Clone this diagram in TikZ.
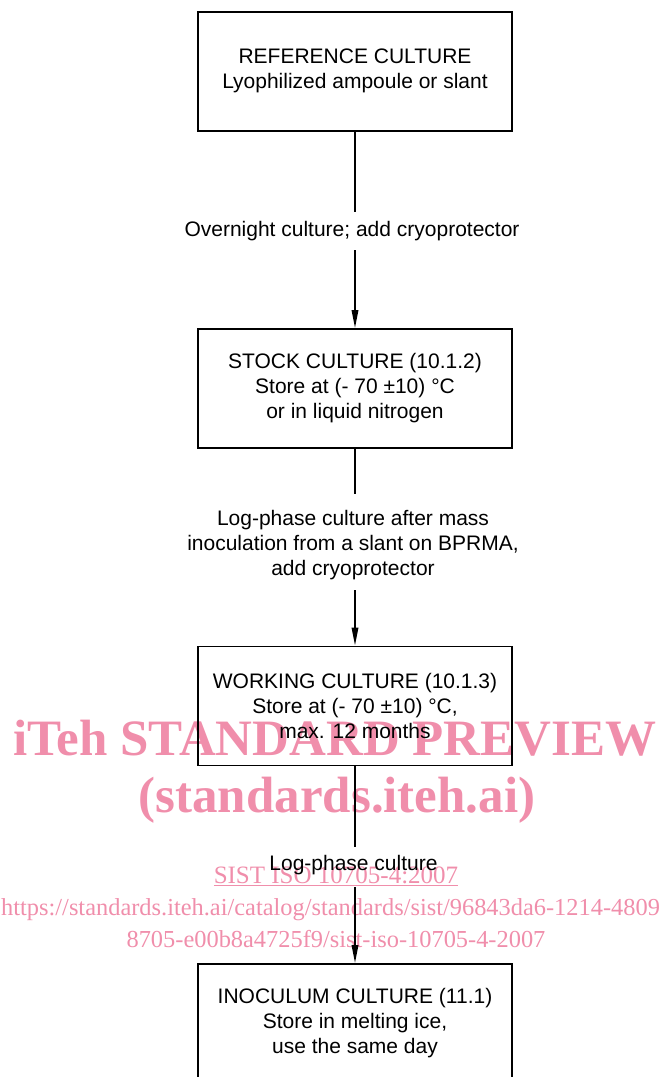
\documentclass[tikz,border=0pt]{standalone}
\usepackage{fontspec}
\setmainfont{Liberation Sans}
\newfontfamily\wmfont{Liberation Serif}
\usetikzlibrary{arrows.meta}
\definecolor{wmpink}{RGB}{240,142,171}

\begin{document}
\begin{tikzpicture}[x=1pt,y=-1pt,
  stage/.style={draw, line width=1.8pt, minimum width=314pt, minimum height=119pt,
    align=center, font=\fontsize{21}{25}\selectfont, inner sep=0pt},
  flowlabel/.style={align=center, font=\fontsize{21}{25}\selectfont, inner sep=0pt},
  link/.style={line width=1.7pt},
  arrowlink/.style={link, -{Triangle[length=18pt,width=6.5pt]}},
  wm/.style={text=wmpink, inner sep=0pt, anchor=base},
  wmbig/.style={wm, font=\wmfont\bfseries\fontsize{51}{51}\selectfont},
  wmsmall/.style={wm, font=\wmfont\fontsize{25}{25}\selectfont},
  wmurl/.style={wm, font=\wmfont\fontsize{24.4}{25}\selectfont}]

\useasboundingbox (0,0) rectangle (660,1077);
\clip (0,0) rectangle (660,1077);

% preview stamp, laid under the flow chart
\node[wmbig, anchor=base west] (wm1) at (13,755) {iTeh STANDARD PREVIEW};
\node[wmbig] (wm2) at (337,812) {(standards.iteh.ai)};
\node[wmsmall] (wm3) at (336,883) {\underline{SIST ISO 10705-4:2007}};
\node[wmurl, anchor=base west] (wm4) at (1,915) {https://standards.iteh.ai/catalog/standards/sist/96843da6-1214-4809};
\node[wmurl] (wm5) at (336,947) {8705-e00b8a4725f9/sist-iso-10705-4-2007};

% culture stages
\node[stage, text depth=6pt] (ref) at (355,71.5) {REFERENCE CULTURE\\Lyophilized ampoule or slant};
\node[stage] (stock) at (355,388.5) {STOCK CULTURE (10.1.2)\\Store at (- 70 ±10) °C\\or in liquid nitrogen};
\node[stage] (work)  at (355,706)   {WORKING CULTURE (10.1.3)\\Store at (- 70 ±10) °C,\\max. 12 months};
\node[stage] (inoc)  at (355,1023.5) {INOCULUM CULTURE (11.1)\\Store in melting ice,\\use the same day};

% step descriptions
\node[flowlabel, anchor=base] (l1) at (352,236) {Overnight culture; add cryoprotector};
\node[flowlabel] (l2) at (353,544.6) {Log-phase culture after mass\\inoculation from a slant on BPRMA,\\add cryoprotector};
\node[flowlabel, anchor=base] (l3) at (353.5,870) {Log-phase culture};

% connector gaps around the descriptions
\coordinate (g1a) at (355,212);
\coordinate (g1b) at (355,250);
\coordinate (g2a) at (355,494);
\coordinate (g2b) at (355,590);
\coordinate (g3a) at (355,847);
\coordinate (g3b) at (355,887);

\draw[link] (ref.south) -- (g1a);
\draw[arrowlink] (g1b) -- (stock.north);
\draw[link] (stock.south) -- (g2a);
\draw[arrowlink] (g2b) -- (work.north);
\draw[link] (work.south) -- (g3a);
\draw[arrowlink] (g3b) -- (inoc.north);
\end{tikzpicture}
\end{document}
